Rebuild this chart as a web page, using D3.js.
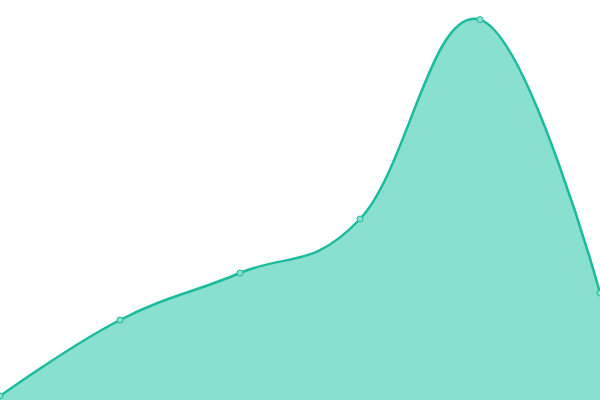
<!DOCTYPE html>
<html><head><meta charset="utf-8">
<script src="https://cdn.jsdelivr.net/npm/d3@7"></script>
<style>html,body{margin:0;padding:0;background:#fff;overflow:hidden}svg{display:block}</style>
</head><body>
<svg id="c" width="600" height="400"></svg>
<script>
const categories = ["A","B","C","D","E","F"];
const values = [1, 20, 31.75, 45.25, 95.1, 26.75];
const yDomain = [0, 100];

const W = 600, H = 400;
const svg = d3.select("#c");
const x = d3.scalePoint().domain(categories).range([0, W]);
const y = d3.scaleLinear().domain(yDomain).range([H, 0]);
const data = categories.map((c,i)=>({c, v: values[i]}));
const curve = d3.curveCardinal.tension(-0.2);
svg.append("path").datum(data)
  .attr("d", d3.area().x(d=>x(d.c)).y0(H).y1(d=>y(d.v)).curve(curve))
  .attr("fill", "#89e0cf");
svg.append("path").datum(data)
  .attr("d", d3.line().x(d=>x(d.c)).y(d=>y(d.v)).curve(curve))
  .attr("fill", "none").attr("stroke", "#1abc9c").attr("stroke-width", 2.5);
svg.selectAll("circle").data(data).join("circle")
  .attr("cx", d=>x(d.c)).attr("cy", d=>y(d.v)).attr("r", 3)
  .attr("fill", "#89e0cf").attr("stroke", "#1abc9c").attr("stroke-width", 1);
</script>
</body></html>
